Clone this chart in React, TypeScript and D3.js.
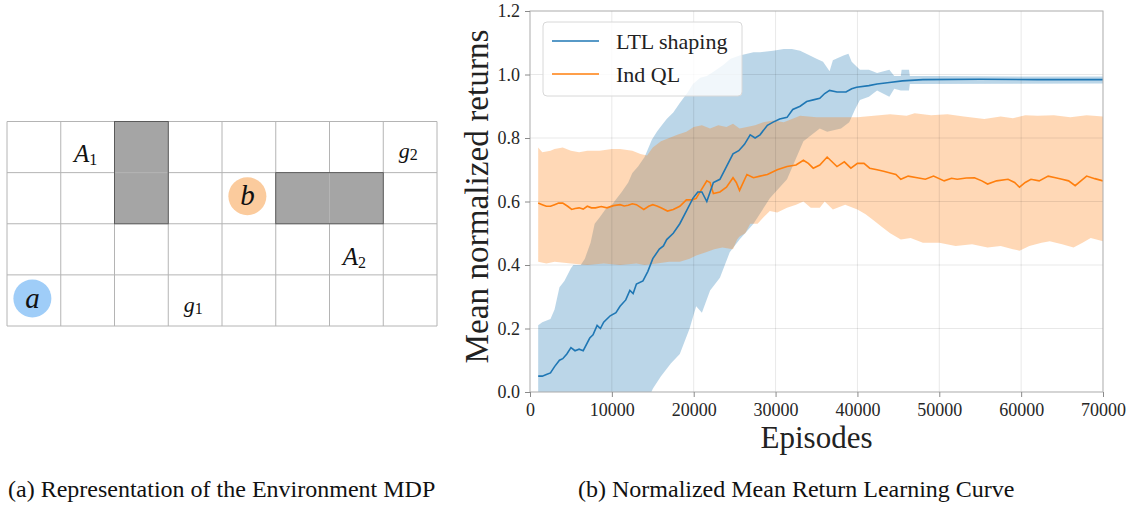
import React, { useEffect, useRef } from 'react';
import * as d3 from 'd3';

// tick values
const xTicks = [0, 10000, 20000, 30000, 40000, 50000, 60000, 70000];
const yTicks = [0, 0.2, 0.4, 0.6, 0.8, 1.0, 1.2];
const seriesNames = ['LTL shaping', 'Ind QL'];

// LTL shaping: [episode, value]
const ltlMean: [number, number][] = [
  [1000, 0.05], [1500, 0.05], [2000, 0.055], [2500, 0.06], [3000, 0.08], [3600, 0.1], [4000, 0.105], [4500, 0.12],
  [5000, 0.14], [5500, 0.13], [6000, 0.135], [6500, 0.13], [7300, 0.17], [7700, 0.18], [8200, 0.21], [8600, 0.2],
  [9000, 0.22], [9800, 0.24], [10500, 0.25], [11000, 0.27], [11700, 0.29], [12200, 0.32], [12600, 0.31],
  [13000, 0.34], [13800, 0.35], [14400, 0.38], [15000, 0.42], [15800, 0.45], [16300, 0.46], [16700, 0.48],
  [17500, 0.5], [18300, 0.53], [19100, 0.57], [19900, 0.61], [20500, 0.63], [21000, 0.63], [21600, 0.6],
  [22400, 0.66], [23200, 0.67], [24000, 0.71], [24800, 0.75], [25500, 0.76], [26200, 0.78], [26900, 0.81],
  [27500, 0.8], [28100, 0.81], [29000, 0.84], [29700, 0.85], [30500, 0.86], [31400, 0.865], [32100, 0.89],
  [33000, 0.9], [33800, 0.915], [34600, 0.92], [35400, 0.925], [36000, 0.94], [36600, 0.95], [37500, 0.945],
  [38600, 0.945], [39300, 0.955], [39900, 0.96], [41400, 0.965], [42400, 0.97], [43900, 0.975], [45500, 0.98],
  [48000, 0.984], [55000, 0.985], [62000, 0.984], [70000, 0.984],
];
const ltlUpper: [number, number][] = [
  [1000, 0.21], [1500, 0.22], [2500, 0.23], [3000, 0.26], [3600, 0.33], [4200, 0.35], [5000, 0.39],
  [5300, 0.4], [6200, 0.4], [6700, 0.42], [7400, 0.47], [7900, 0.53], [8500, 0.55], [9200, 0.575],
  [10000, 0.59], [11200, 0.63], [12000, 0.66], [12500, 0.69], [13200, 0.71], [14000, 0.74], [14900, 0.795],
  [15500, 0.82], [16100, 0.84], [16700, 0.86], [17500, 0.88], [18300, 0.91], [19300, 0.945], [19900, 0.97],
  [20800, 0.99], [21600, 0.995], [22500, 1.01], [23600, 1.03], [24500, 1.05], [25600, 1.06], [27300, 1.07],
  [28100, 1.07], [29700, 1.075], [31000, 1.08], [32000, 1.08], [33000, 1.075], [34200, 1.06], [35000, 1.05],
  [35800, 1.04], [36600, 1.01], [37000, 1.045], [37400, 1.05], [38300, 1.06], [38900, 1.065], [39300, 1.04],
  [40300, 1.015], [41400, 1.015], [42400, 1.005], [43200, 1.01], [43900, 1.015], [44500, 0.995],
  [45300, 0.995], [45400, 1.015], [46300, 1.015], [46400, 0.995], [50000, 0.995], [60000, 0.994], [70000, 0.994],
];
const ltlLower: [number, number][] = [
  [1000, -0.12], [8000, -0.1], [14500, -0.02], [15000, 0.01], [16000, 0.05], [17200, 0.09], [18300, 0.12],
  [19500, 0.2], [20300, 0.27], [21000, 0.25], [22000, 0.32], [23200, 0.36], [24400, 0.44], [25600, 0.48],
  [27300, 0.53], [29300, 0.61], [31400, 0.67], [33400, 0.79], [35400, 0.83], [36300, 0.82], [38000, 0.83],
  [39000, 0.85], [39700, 0.89], [40300, 0.92], [41400, 0.93], [42400, 0.95], [43900, 0.93], [44500, 0.955],
  [45300, 0.95], [46300, 0.95], [46400, 0.97], [70000, 0.972],
];

// Ind QL: [episode, value]
const qlMean: [number, number][] = [
  [1000, 0.595], [1500, 0.59], [2000, 0.585], [2500, 0.585], [3000, 0.59], [3500, 0.595], [4000, 0.595],
  [4600, 0.585], [5100, 0.575], [5500, 0.578], [6000, 0.58], [6500, 0.576], [7000, 0.585], [7500, 0.58],
  [8000, 0.58], [8700, 0.584], [9400, 0.58], [10200, 0.587], [11000, 0.59], [11500, 0.586], [12000, 0.588],
  [12500, 0.593], [13000, 0.59], [13900, 0.575], [14500, 0.585], [15000, 0.59], [15500, 0.586], [16000, 0.58],
  [16800, 0.57], [17500, 0.575], [18300, 0.585], [19100, 0.605], [19800, 0.605], [20300, 0.61], [21000, 0.64],
  [21600, 0.665], [22000, 0.66], [22400, 0.625], [23200, 0.63], [24000, 0.645], [24800, 0.675], [25200, 0.66],
  [25600, 0.635], [26500, 0.685], [27300, 0.675], [28100, 0.68], [29000, 0.685], [30200, 0.7], [31400, 0.71],
  [32500, 0.715], [33400, 0.73], [34000, 0.72], [34600, 0.705], [35400, 0.715], [36300, 0.74], [37500, 0.71],
  [38400, 0.725], [39200, 0.705], [40000, 0.72], [40800, 0.72], [41500, 0.705], [42400, 0.7], [43200, 0.695],
  [44000, 0.69], [44700, 0.685], [45300, 0.67], [46200, 0.68], [47300, 0.675], [48300, 0.67], [49300, 0.68],
  [50600, 0.665], [51500, 0.673], [52200, 0.67], [53300, 0.674], [54300, 0.675], [55200, 0.665], [55900, 0.655],
  [57000, 0.665], [58400, 0.67], [59200, 0.66], [59800, 0.645], [60500, 0.66], [61200, 0.67], [62200, 0.665],
  [63300, 0.68], [64200, 0.675], [65000, 0.67], [65800, 0.665], [66600, 0.65], [67300, 0.665], [68000, 0.68],
  [69000, 0.672], [70000, 0.665],
];
const qlUpper: [number, number][] = [
  [1000, 0.77], [1500, 0.755], [2500, 0.76], [3000, 0.765], [4000, 0.77], [5000, 0.76], [6000, 0.755],
  [7000, 0.76], [8500, 0.76], [10000, 0.765], [11000, 0.765], [12500, 0.76], [13500, 0.75], [14300, 0.745],
  [15000, 0.77], [16000, 0.79], [17000, 0.8], [18000, 0.81], [19100, 0.82], [20000, 0.835], [21000, 0.84],
  [22000, 0.83], [23000, 0.84], [24000, 0.835], [24800, 0.845], [25600, 0.83], [26500, 0.835], [27500, 0.84],
  [28500, 0.85], [29700, 0.855], [31000, 0.85], [32000, 0.86], [33000, 0.87], [35000, 0.865], [37000, 0.865],
  [40000, 0.865], [42000, 0.87], [44000, 0.875], [46000, 0.87], [47000, 0.878], [49000, 0.872], [51000, 0.875],
  [53000, 0.868], [55500, 0.86], [57500, 0.868], [59000, 0.862], [60500, 0.872], [62000, 0.87], [64000, 0.872],
  [66000, 0.865], [68000, 0.872], [70000, 0.868],
];
const qlLower: [number, number][] = [
  [1000, 0.41], [2000, 0.405], [3000, 0.41], [5000, 0.405], [7000, 0.4], [9000, 0.405], [11000, 0.4],
  [13000, 0.405], [14000, 0.4], [15500, 0.405], [17000, 0.41], [18300, 0.41], [19500, 0.42], [20300, 0.43],
  [21500, 0.44], [22500, 0.45], [23500, 0.455], [24800, 0.45], [25300, 0.48], [25600, 0.49], [26300, 0.5],
  [26900, 0.53], [27800, 0.53], [28500, 0.55], [29300, 0.57], [30200, 0.565], [31400, 0.58], [32500, 0.59],
  [33400, 0.6], [34300, 0.58], [35400, 0.58], [36000, 0.6], [37000, 0.575], [38500, 0.59], [40000, 0.575],
  [41000, 0.56], [42000, 0.54], [43000, 0.52], [44000, 0.5], [45300, 0.48], [46500, 0.485], [48000, 0.47],
  [50000, 0.47], [52000, 0.46], [54000, 0.465], [55900, 0.455], [57500, 0.46], [59000, 0.45], [59800, 0.445],
  [61000, 0.46], [62500, 0.47], [63500, 0.475], [65000, 0.465], [66400, 0.455], [67500, 0.47], [68500, 0.485],
  [70000, 0.475],
];

// grid world (left panel)
const gridCols = 8;
const gridRows = 4;
const walls = [
  { col: 2, row: 0, w: 1, h: 2 },
  { col: 5, row: 1, w: 2, h: 1 },
];
const agents = [
  { name: 'a', col: 0, row: 3 },
  { name: 'b', col: 4, row: 1 },
];
const cellLabels = [
  { base: 'A', sub: '1', col: 1, row: 0 },
  { base: 'g', sub: '2', col: 7, row: 0 },
  { base: 'A', sub: '2', col: 6, row: 2 },
  { base: 'g', sub: '1', col: 3, row: 3 },
];
const captions = ['(a) Representation of the Environment MDP', '(b) Normalized Mean Return Learning Curve'];

const BLUE = '#1f77b4';
const ORANGE = '#ff7f0e';
const AGENT_COLORS = ['#9fcdf8', '#fbcb9d'];
const SERIF = 'Liberation Serif';

export default function App() {
  const xAxisRef = useRef<SVGGElement>(null);
  const yAxisRef = useRef<SVGGElement>(null);

  const left = 530, right = 1103, top = 11, bottom = 392;
  const x = d3.scaleLinear().domain([0, 70000]).range([left, right]);
  const y = d3.scaleLinear().domain([0, 1.2]).range([bottom, top]);
  const gx = d3.scaleLinear().domain([0, gridCols]).range([7, 437]);
  const gy = d3.scaleLinear().domain([0, gridRows]).range([121.5, 326]);

  const line = d3.line<[number, number]>().x((d) => x(d[0])).y((d) => y(d[1]));
  const band = (up: [number, number][], low: [number, number][]) =>
    line(up.concat(low.slice().reverse())) + 'Z';

  useEffect(() => {
    const xa = d3.axisBottom(x).tickValues(xTicks).tickSize(5).tickPadding(6).tickFormat(d3.format('d'));
    const ya = d3.axisLeft(y).tickValues(yTicks).tickSize(5).tickPadding(5).tickFormat(d3.format('.1f'));
    [d3.select(xAxisRef.current).call(xa as any), d3.select(yAxisRef.current).call(ya as any)].forEach((g) => {
      g.select('.domain').remove();
      g.selectAll('line').attr('stroke', '#8a8a8a');
      g.selectAll('text').attr('font-family', SERIF).attr('font-size', 18).attr('fill', '#262626');
    });
  }, []);

  const cw = gx(1) - gx(0);
  const ch = gy(1) - gy(0);

  return (
    <svg width={1136} height={506} style={{ position: 'absolute', left: 0, top: 0, background: '#fff' }}>
      <defs>
        <clipPath id="plot-clip">
          <rect x={left} y={top} width={right - left} height={bottom - top} />
        </clipPath>
      </defs>

      {/* left panel: grid world */}
      <g>
        {walls.map((w, i) => (
          <rect key={i} x={gx(w.col)} y={gy(w.row)} width={gx(w.col + w.w) - gx(w.col)}
            height={gy(w.row + w.h) - gy(w.row)} fill="#a5a5a5" />
        ))}
        {d3.range(gridCols + 1).map((c) => (
          <line key={'c' + c} x1={gx(c)} x2={gx(c)} y1={gy(0)} y2={gy(gridRows)} stroke="#b4b4b4" strokeWidth={1} />
        ))}
        {d3.range(gridRows + 1).map((r) => (
          <line key={'r' + r} x1={gx(0)} x2={gx(gridCols)} y1={gy(r)} y2={gy(r)} stroke="#b4b4b4" strokeWidth={1} />
        ))}
        {walls.map((w, i) => (
          <rect key={'o' + i} x={gx(w.col)} y={gy(w.row)} width={gx(w.col + w.w) - gx(w.col)}
            height={gy(w.row + w.h) - gy(w.row)} fill="none" stroke="#5a5a5a" strokeWidth={1} />
        ))}
        {agents.map((a, i) => (
          <g key={a.name} transform={`translate(${gx(a.col) + cw / 2 - 1.5},${gy(a.row) + ch / 2 - 2})`}>
            <circle r={19} fill={AGENT_COLORS[i]} />
            <text dy="0.32em" textAnchor="middle" fontFamily={SERIF} fontStyle="italic" fontSize={29} fill="#111">
              {a.name}
            </text>
          </g>
        ))}
        {cellLabels.map((l, i) => (
          <text key={i} x={gx(l.col) + cw / 2 - 2} y={gy(l.row) + ch * (l.base === 'A' ? 0.8 : 0.72)}
            textAnchor="middle" fontFamily={SERIF} fill="#111">
            <tspan fontStyle="italic" fontSize={l.base === 'A' ? 25 : 22}>{l.base}</tspan>
            <tspan fontSize={16} dy={l.base === 'A' ? 3 : 2}>{l.sub}</tspan>
          </text>
        ))}
      </g>

      {/* right panel: learning curve */}
      <g>
        <g clipPath="url(#plot-clip)">
          <path d={band(ltlUpper, ltlLower)} fill={BLUE} fillOpacity={0.3} />
          <path d={band(qlUpper, qlLower)} fill={ORANGE} fillOpacity={0.3} />
        </g>
        {xTicks.map((t) => (
          <line key={'gx' + t} x1={x(t)} x2={x(t)} y1={top} y2={bottom} stroke="#000" strokeOpacity={0.09} />
        ))}
        {yTicks.map((t) => (
          <line key={'gy' + t} x1={left} x2={right} y1={y(t)} y2={y(t)} stroke="#000" strokeOpacity={0.09} />
        ))}
        <g clipPath="url(#plot-clip)">
          <path d={line(qlMean) || ''} fill="none" stroke={ORANGE} strokeWidth={1.6} />
          <path d={line(ltlMean) || ''} fill="none" stroke={BLUE} strokeWidth={1.6} />
        </g>
        <rect x={left} y={top} width={right - left} height={bottom - top} fill="none" stroke="#b5b5b5" strokeWidth={1} />
        <g ref={xAxisRef} transform={`translate(0,${bottom})`} />
        <g ref={yAxisRef} transform={`translate(${left},0)`} />

        {/* legend */}
        <g>
          <rect x={543} y={22} width={199} height={74} rx={4} fill="#fff" fillOpacity={0.8} stroke="#d8d8d8" />
          {seriesNames.map((name, i) => (
            <g key={name} transform={`translate(552,${41 + i * 33})`}>
              <line x1={0} x2={47} stroke={i === 0 ? BLUE : ORANGE} strokeWidth={1.6} />
              <text x={64} dy="0.35em" fontFamily={SERIF} fontSize={22} fill="#222">{name}</text>
            </g>
          ))}
        </g>

        <text transform={`translate(476,${(top + bottom) / 2 - 5}) rotate(-90)`} dy="0.35em" textAnchor="middle"
          fontFamily={SERIF} fontSize={33} textLength={334} lengthAdjust="spacingAndGlyphs" fill="#222">
          Mean normalized returns
        </text>
        <text x={(left + right) / 2} y={448} textAnchor="middle" fontFamily={SERIF} fontSize={31} fill="#222">
          Episodes
        </text>
      </g>

      {/* captions */}
      {captions.map((c, i) => (
        <text key={c} x={i === 0 ? 8 : 578} y={497} fontFamily={SERIF} fontSize={24} fill="#111">{c}</text>
      ))}
    </svg>
  );
}
